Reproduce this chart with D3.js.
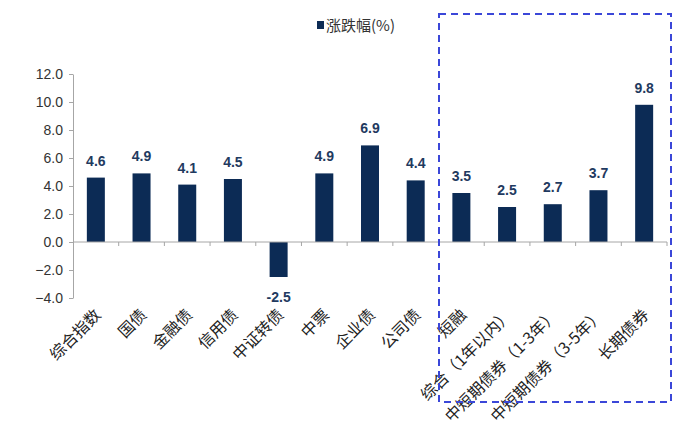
<!DOCTYPE html>
<html><head><meta charset="utf-8">
<script src="https://cdn.jsdelivr.net/npm/d3@7/dist/d3.min.js"></script>
<style>body{margin:0;background:#fff;}svg{display:block;}</style>
</head><body>
<svg id="c" width="700" height="434"></svg>
<script>
const categories = ["综合指数","国债","金融债","信用债","中证转债","中票","企业债","公司债","短融","综合（1年以内）","中短期债券（1-3年）","中短期债券（3-5年）","长期债券"];
const values = [4.6,4.9,4.1,4.5,-2.5,4.9,6.9,4.4,3.5,2.5,2.7,3.7,9.8];
const yTicks = [-4,-2,0,2,4,6,8,10,12];
const seriesName = "涨跌幅(%)";

(function(){
const svg = d3.select("#c");
const mLeft = 73, mRight = 667, mTop = 74, mBottom = 298;
const xb = d3.scaleBand().domain(categories).range([mLeft, mRight]);
const y = d3.scaleLinear().domain([-4, 12]).range([mBottom, mTop]);
const font = "'Liberation Sans', 'Noto Sans CJK SC', Arial, sans-serif";
const cfont = "'Noto Sans CJK SC', 'Liberation Sans', sans-serif";
const barColor = "#0c2b55";

// y axis
const ya = svg.append("g").attr("transform", `translate(${mLeft},0)`)
  .call(d3.axisLeft(y).tickValues(yTicks).tickSize(4).tickSizeOuter(0).tickFormat(d3.format(".1f")));
ya.select(".domain").attr("stroke", "#a6a6a6");
ya.selectAll(".tick line").attr("stroke", "#a6a6a6");
ya.selectAll("text").attr("font-family", font).attr("font-size", 14).attr("fill", "#333").attr("x", -10);

// bars
svg.selectAll("rect.bar").data(values).enter().append("rect").attr("class","bar")
  .attr("x", (d,i) => xb(categories[i]) + (xb.bandwidth()-18)/2)
  .attr("width", 18)
  .attr("y", d => y(Math.max(0,d)))
  .attr("height", d => Math.abs(y(d) - y(0)))
  .attr("fill", barColor);

// x axis at zero
const xa = svg.append("g").attr("transform", `translate(0,${y(0)})`);
xa.append("line").attr("x1", mLeft).attr("x2", mRight).attr("stroke", "#a6a6a6");
categories.forEach((c,i) => {
  const xx = xb(c) + xb.bandwidth();
  xa.append("line").attr("x1", xx).attr("x2", xx).attr("y1", 0).attr("y2", 4).attr("stroke", "#a6a6a6");
});

// value labels
svg.selectAll("text.val").data(values).enter().append("text").attr("class","val")
  .attr("x", (d,i) => xb(categories[i]) + xb.bandwidth()/2)
  .attr("y", d => d >= 0 ? y(d) - 12 : y(d) + 25)
  .attr("text-anchor", "middle")
  .attr("font-family", font).attr("font-size", 14).attr("font-weight", "bold")
  .attr("fill", "#1f3a60")
  .text(d => d.toFixed(1));

// category labels
svg.selectAll("text.cat").data(categories).enter().append("text").attr("class","cat")
  .attr("transform", c => `translate(${xb(c) + xb.bandwidth()/2 + 6},${mBottom + 18}) rotate(-45)`)
  .attr("text-anchor", "end")
  .attr("font-family", cfont).attr("font-size", 16).attr("fill", "#222")
  .text(c => c);

// legend
svg.append("rect").attr("x", 317).attr("y", 21).attr("width", 7).attr("height", 8).attr("fill", barColor);
svg.append("text").attr("x", 326).attr("y", 31).attr("font-family", cfont).attr("font-size", 15).attr("fill", "#333").text(seriesName);

// dashed highlight box
svg.append("rect").attr("x", 439).attr("y", 14).attr("width", 232).attr("height", 388)
  .attr("fill", "none").attr("stroke", "#3b47d8").attr("stroke-width", 2).attr("stroke-dasharray", "7,5");
})();
</script>
</body></html>
